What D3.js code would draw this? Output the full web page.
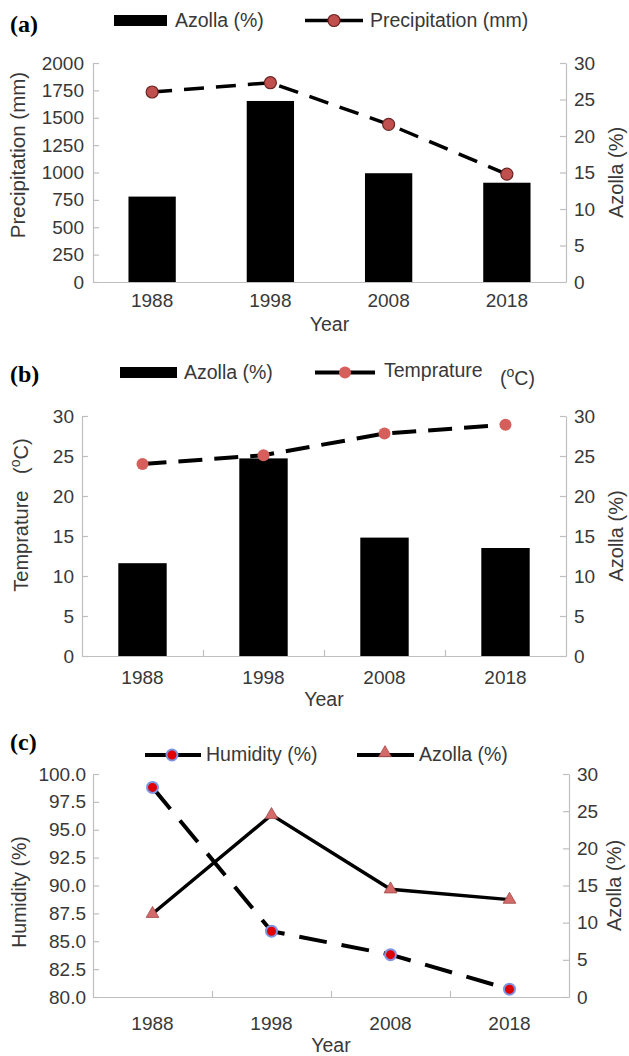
<!DOCTYPE html>
<html><head><meta charset="utf-8">
<script src="https://cdn.jsdelivr.net/npm/d3@7/dist/d3.min.js"></script>
<style>
html,body{margin:0;padding:0;background:#fff;}
svg{display:block;font-family:"Liberation Sans",Arial,sans-serif;}
</style></head><body>
<svg id="c" width="629" height="1056"></svg>
<script>
const years = ["1988", "1998", "2008", "2018"];
const azollaA = [11.7, 24.8, 14.9, 13.6];
const precipitation = [1735, 1820, 1440, 985];
const azollaB = [11.6, 24.7, 14.8, 13.5];
const temperature = [24.0, 25.1, 27.8, 28.9];
const humidity = [98.8, 85.9, 83.8, 80.7];
const azollaC = [11.2, 24.5, 14.5, 13.1];
const precipTicks = [0, 250, 500, 750, 1000, 1250, 1500, 1750, 2000];
const tempTicks = [0, 5, 10, 15, 20, 25, 30];
const humidityTicks = [80, 82.5, 85, 87.5, 90, 92.5, 95, 97.5, 100];
const azollaTicks = [0, 5, 10, 15, 20, 25, 30];

const svg = d3.select("#c");
const AX = "#bfbfbf", TXT = "#383838";
const FS = 19, LFS = 19.5;

function panel(o) {
  const g = svg.append("g");
  const x = d3.scaleBand().domain(years).range([o.x0, o.x1]).paddingInner(0.6).paddingOuter(0.3);
  const yL = d3.scaleLinear().domain(o.lDomain).range([o.y1, o.y0]);
  const yR = d3.scaleLinear().domain([0, 30]).range([o.y1, o.y0]);
  const cx = d => x(d) + x.bandwidth() / 2;

  const la = g.append("g").attr("transform", `translate(${o.x0},0)`)
    .call(d3.axisLeft(yL).tickValues(o.lTicks).tickSizeInner(-6).tickSizeOuter(0).tickPadding(o.lPad)
      .tickFormat(o.lFmt));
  const ra = g.append("g").attr("transform", `translate(${o.x1},0)`)
    .call(d3.axisRight(yR).tickValues(azollaTicks).tickSizeInner(-6).tickSizeOuter(0).tickPadding(8));
  const ba = g.append("g").attr("transform", `translate(0,${o.y1})`)
    .call(d3.axisBottom(x).tickSize(0).tickPadding(o.bPad));
  ba.select(".domain").remove();
  const xb = d3.scaleLinear().domain([0, 4]).range([o.x0, o.x1]);
  const bl = g.append("g").attr("transform", `translate(0,${o.y1})`)
    .call(d3.axisBottom(xb).tickValues(o.bTicks ? [1, 2, 3] : []).tickSizeInner(-6).tickSizeOuter(0).tickFormat(""));
  [la, ra, ba, bl].forEach(a => {
    a.selectAll("path,line").attr("stroke", AX).attr("stroke-width", 1.2);
    a.selectAll("text").attr("fill", TXT).style("font-size", FS + "px").attr("font-family", null);
  });

  g.append("text").attr("x", (o.x0 + o.x1) / 2).attr("y", o.yearY).attr("text-anchor", "middle")
    .attr("fill", TXT).style("font-size", "19.5px").text("Year");
  const lt = g.append("text").attr("transform", `translate(${o.lTitleX},${o.lTitleY}) rotate(-90)`)
    .attr("text-anchor", "middle").attr("fill", TXT).style("font-size", o.lTitleFS + "px");
  o.lTitle(lt);
  g.append("text").attr("transform", `translate(${o.rTitleX},${(o.y0 + o.y1) / 2}) rotate(-90)`)
    .attr("text-anchor", "middle").attr("fill", TXT).style("font-size", "20px").text("Azolla (%)");

  g.append("text").attr("x", 10).attr("y", o.letterY).attr("font-family", "'Liberation Serif','Times New Roman',serif")
    .attr("font-weight", "bold").style("font-size", "24px").attr("fill", "#000").text(o.letter);

  return { g, x, yL, yR, cx };
}

function degC(t, sup) {
  t.append("tspan").text("(");
  t.append("tspan").attr("dy", -8).style("font-size", sup + "px").text("o");
  t.append("tspan").attr("dy", 8).text("C)");
}

// ---------- Panel (a) ----------
(function () {
  const p = panel({ x0: 93, x1: 566, y0: 63, y1: 282, lDomain: [0, 2000], lTicks: precipTicks, lPad: 9,
    lFmt: d => d, bPad: 12, bTicks: false, yearY: 331, lTitleX: 25, lTitleY: 155, lTitleFS: 20.5,
    rTitleX: 623, letter: "(a)", letterY: 32,
    lTitle: t => t.text("Precipitation (mm)") });
  p.g.selectAll(".bar").data(years).join("rect").attr("x", d => p.x(d)).attr("width", p.x.bandwidth())
    .attr("y", (d, i) => p.yR(azollaA[i])).attr("height", (d, i) => p.yR(0) - p.yR(azollaA[i])).attr("fill", "#000");
  const line = d3.line().x((d, i) => p.cx(years[i])).y(d => p.yL(d));
  p.g.append("path").datum(precipitation).attr("d", line).attr("fill", "none").attr("stroke", "#000")
    .attr("stroke-width", 3.5).attr("stroke-dasharray", "20,12");
  p.g.selectAll(".pt").data(precipitation).join("circle").attr("cx", (d, i) => p.cx(years[i])).attr("cy", d => p.yL(d))
    .attr("r", 6).attr("fill", "#c0504d").attr("stroke", "#6b2424").attr("stroke-width", 1.2);
  const lg = svg.append("g");
  lg.append("rect").attr("x", 114).attr("y", 15).attr("width", 53).attr("height", 11).attr("fill", "#000");
  lg.append("text").attr("x", 175).attr("y", 27).attr("fill", TXT).style("font-size", LFS + "px").text("Azolla (%)");
  lg.append("line").attr("x1", 305).attr("x2", 363).attr("y1", 20.5).attr("y2", 20.5).attr("stroke", "#000").attr("stroke-width", 3.5);
  lg.append("circle").attr("cx", 334).attr("cy", 20.5).attr("r", 6).attr("fill", "#c0504d").attr("stroke", "#6b2424").attr("stroke-width", 1.2);
  lg.append("text").attr("x", 370).attr("y", 27).attr("fill", TXT).style("font-size", LFS + "px").text("Precipitation (mm)");
})();

// ---------- Panel (b) ----------
(function () {
  const p = panel({ x0: 82, x1: 566, y0: 416, y1: 656, lDomain: [0, 30], lTicks: tempTicks, lPad: 8,
    lFmt: d => d, bPad: 15, bTicks: true, yearY: 706, lTitleX: 28, lTitleY: 515, lTitleFS: 20,
    rTitleX: 623, letter: "(b)", letterY: 382,
    lTitle: t => { t.append("tspan").text("Temprature\u00a0\u00a0\u00a0"); degC(t, 14); } });
  p.g.selectAll(".bar").data(years).join("rect").attr("x", d => p.x(d)).attr("width", p.x.bandwidth())
    .attr("y", (d, i) => p.yR(azollaB[i])).attr("height", (d, i) => p.yR(0) - p.yR(azollaB[i])).attr("fill", "#000");
  const line = d3.line().x((d, i) => p.cx(years[i])).y(d => p.yL(d));
  p.g.append("path").datum(temperature).attr("d", line).attr("fill", "none").attr("stroke", "#000")
    .attr("stroke-width", 4).attr("stroke-dasharray", "24,12");
  p.g.selectAll(".pt").data(temperature).join("circle").attr("cx", (d, i) => p.cx(years[i])).attr("cy", d => p.yL(d))
    .attr("r", 6).attr("fill", "#d65f5c");
  const lg = svg.append("g");
  lg.append("rect").attr("x", 120).attr("y", 367).attr("width", 57).attr("height", 11).attr("fill", "#000");
  lg.append("text").attr("x", 184).attr("y", 379).attr("fill", TXT).style("font-size", LFS + "px").text("Azolla (%)");
  lg.append("line").attr("x1", 315).attr("x2", 375).attr("y1", 372.5).attr("y2", 372.5).attr("stroke", "#000").attr("stroke-width", 4);
  lg.append("circle").attr("cx", 345).attr("cy", 372.5).attr("r", 6).attr("fill", "#d65f5c");
  lg.append("text").attr("x", 384).attr("y", 377).attr("fill", TXT).style("font-size", LFS + "px").text("Temprature");
  const tc = lg.append("text").attr("x", 500).attr("y", 385).attr("fill", TXT).style("font-size", LFS + "px");
  degC(tc, 14);
})();

// ---------- Panel (c) ----------
(function () {
  const p = panel({ x0: 93, x1: 569, y0: 774, y1: 997, lDomain: [80, 100], lTicks: humidityTicks, lPad: 7,
    lFmt: d3.format(".1f"), bPad: 20, bTicks: true, yearY: 1052, lTitleX: 26, lTitleY: 892, lTitleFS: 19.5,
    rTitleX: 621, letter: "(c)", letterY: 750,
    lTitle: t => t.text("Humidity (%)") });
  const lineH = d3.line().x((d, i) => p.cx(years[i])).y(d => p.yL(d));
  const lineA = d3.line().x((d, i) => p.cx(years[i])).y(d => p.yR(d));
  p.g.append("path").datum(humidity).attr("d", lineH).attr("fill", "none").attr("stroke", "#000")
    .attr("stroke-width", 4).attr("stroke-dasharray", "28,15");
  p.g.append("path").datum(azollaC).attr("d", lineA).attr("fill", "none").attr("stroke", "#000")
    .attr("stroke-width", 3.5);
  const tri = d3.symbol().type(d3.symbolTriangle).size(70);
  p.g.selectAll(".tri").data(azollaC).join("path").attr("d", tri)
    .attr("transform", (d, i) => `translate(${p.cx(years[i])},${p.yR(d)})`)
    .attr("fill", "#d46a6a").attr("stroke", "#a04848").attr("stroke-width", 0.8);
  p.g.selectAll(".pt").data(humidity).join("circle").attr("cx", (d, i) => p.cx(years[i])).attr("cy", d => p.yL(d))
    .attr("r", 5.5).attr("fill", "#e00000").attr("stroke", "#7f93e0").attr("stroke-width", 2);
  const lg = svg.append("g");
  lg.append("line").attr("x1", 145).attr("x2", 201).attr("y1", 755).attr("y2", 755).attr("stroke", "#000").attr("stroke-width", 4);
  lg.append("circle").attr("cx", 172).attr("cy", 755).attr("r", 5.5).attr("fill", "#e00000").attr("stroke", "#7f93e0").attr("stroke-width", 2);
  lg.append("text").attr("x", 206).attr("y", 761).attr("fill", TXT).style("font-size", LFS + "px").text("Humidity (%)");
  lg.append("line").attr("x1", 357).attr("x2", 414).attr("y1", 755).attr("y2", 755).attr("stroke", "#000").attr("stroke-width", 4);
  lg.append("path").attr("d", d3.symbol().type(d3.symbolTriangle).size(70)).attr("transform", "translate(385,753)")
    .attr("fill", "#d46a6a").attr("stroke", "#a04848").attr("stroke-width", 0.8);
  lg.append("text").attr("x", 419).attr("y", 761).attr("fill", TXT).style("font-size", LFS + "px").text("Azolla (%)");
})();
</script>
</body></html>
